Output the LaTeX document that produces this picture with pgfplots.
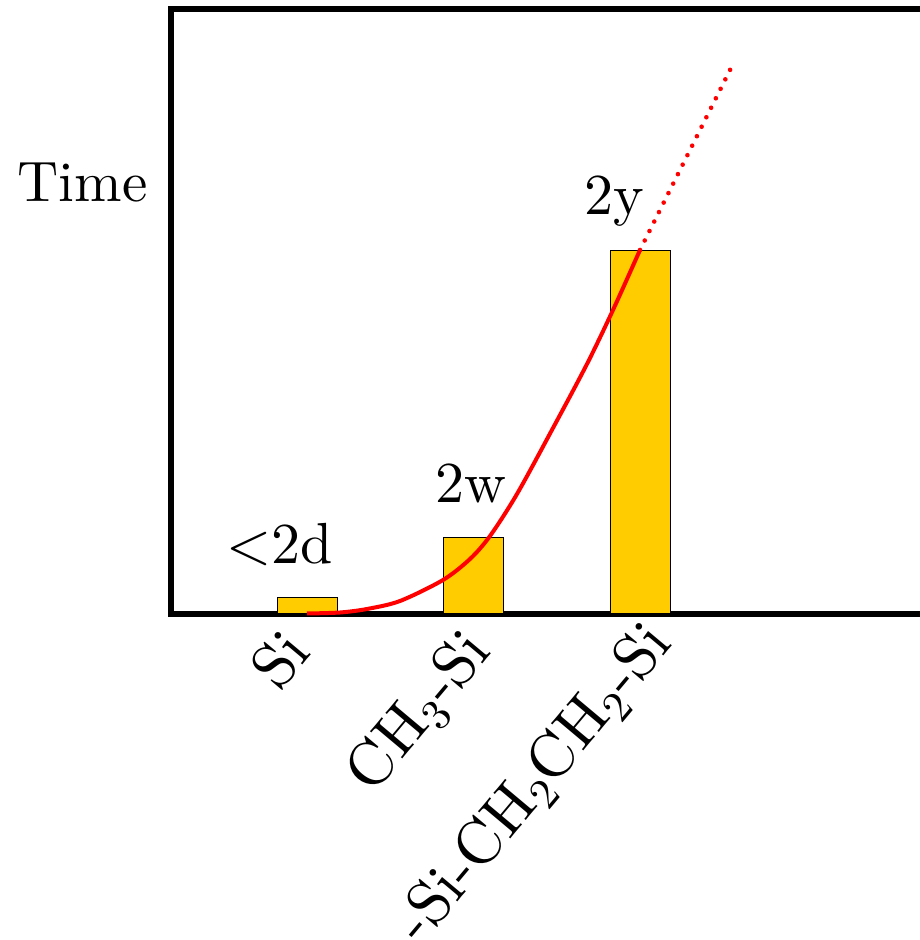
\documentclass[border=0pt]{standalone}
\usepackage{fontspec}
\setmainfont{lmroman10-regular.otf}
\usepackage{pgfplots}
\pgfplotsset{compat=1.18}
\definecolor{baryellow}{HTML}{FFCC00}
\newcommand{\bigfont}{\fontsize{29}{35}\selectfont}
\newcommand{\labfont}{\fontsize{28.5}{34}\selectfont}
\newcommand{\tickfont}{\fontsize{31}{37}\selectfont}
\begin{document}
\begin{tikzpicture}
\begin{axis}[
  at={(85.5pt,163pt)}, anchor=south west,
  x=0.5pt, y=0.5pt,
  xmin=171, xmax=940, ymin=0, ymax=605,
  axis line style={line width=3pt},
  xtick=\empty,
  ytick=\empty,
  major tick length=0pt,
  ylabel={Time},
  ylabel style={rotate=-90, at={(axis description cs:-0.0301,0.681)}, anchor=base east, inner sep=0pt, font=\labfont},
  clip=false,
]
\addplot[ybar, bar width=30pt, fill=baryellow, draw=black, line width=0.5pt] coordinates {(307,16) (473,76) (640,363)};
\addplot[red, line width=2pt, smooth] coordinates {(307,0.5) (340,1.5) (367,5) (400,13) (443,34) (470,55) (490,78) (517,120) (553,186) (587,250) (613,304) (640,364)};
\addplot[red, line width=2.3pt, line cap=round, dash pattern=on 0pt off 5.3pt] coordinates {(640,364) (731,546)};
\node[anchor=base, font=\bigfont, inner sep=0pt] at (axis cs:280,50) {<2d};
\node[anchor=base, font=\bigfont, inner sep=0pt] at (axis cs:471,111) {2w};
\node[anchor=base, font=\bigfont, inner sep=0pt] at (axis cs:614,399) {2y};
\node[xshift=3pt, yshift=-19.5pt, rotate=50, anchor=base east, inner sep=0pt, font=\tickfont] at (axis cs:307,0) {Si};
\node[xshift=10pt, yshift=-19pt, rotate=50, anchor=base east, inner sep=0pt, font=\tickfont] at (axis cs:473,0) {CH\textsubscript{3}-Si};
\node[xshift=17pt, yshift=-15pt, rotate=50, anchor=base east, inner sep=0pt, font=\tickfont] at (axis cs:640,0) {-Si-CH\textsubscript{2}CH\textsubscript{2}-Si};
\end{axis}
\pgfresetboundingbox
\useasboundingbox (0,0) rectangle (459.5pt,470pt);
\end{tikzpicture}
\end{document}
